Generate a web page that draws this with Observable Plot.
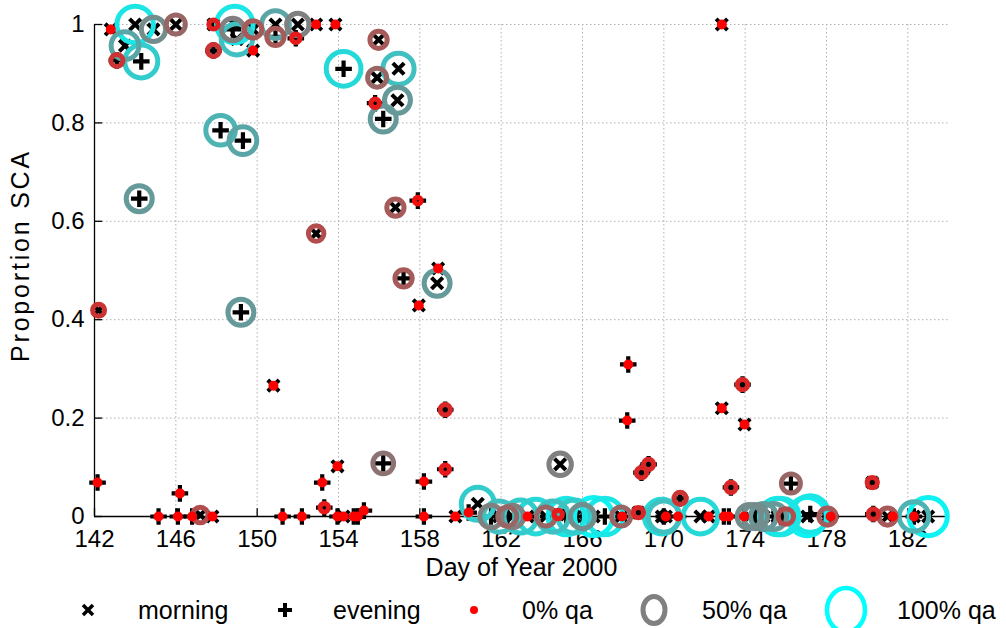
<!DOCTYPE html>
<html><head><meta charset="utf-8">
<script src="https://cdn.jsdelivr.net/npm/d3@7"></script>
<script src="https://cdn.jsdelivr.net/npm/@observablehq/plot@0.6"></script>
<style>
html,body{margin:0;padding:0;background:#fff;}
body{font-family:"Liberation Sans",Arial,sans-serif;}
#wrap{position:relative;width:1006px;height:628px;overflow:hidden;}
#legend{position:absolute;left:0;top:592px;width:1006px;height:36px;}
.lg{position:absolute;top:0;height:36px;display:flex;align-items:center;font-size:25px;color:#000;white-space:nowrap;}
</style></head><body>
<div id="wrap"><div id="chart"></div><div id="legend"></div></div>
<script>
// Day of year, proportion SCA, quality-assurance fraction, session (m = morning, e = evening)
const days = [142.15,142.2,142.8,143.1,143.5,144.0,144.2,144.3,144.9,145.15,146.0,146.1,146.2,146.8,147.2,147.8,147.85,147.85,148.2,148.8,148.9,149.0,149.2,149.3,149.8,149.8,150.8,150.9,150.9,151.25,151.9,152.0,152.2,152.9,152.9,153.2,153.3,153.85,153.95,153.95,154.25,154.25,154.75,154.95,155.25,155.8,155.9,155.97,156.2,156.2,156.8,156.9,156.95,157.2,157.9,157.95,158.2,158.2,158.85,158.9,159.25,159.25,159.75,160.4,160.85,161.5,161.9,162.3,162.55,162.95,163.3,163.7,164.2,164.55,164.8,164.9,165.2,165.6,166.0,166.55,167.1,167.9,167.95,168.2,168.25,168.75,168.9,169.25,169.9,170.0,170.1,170.7,170.8,171.8,172.2,172.85,172.85,172.95,173.2,173.3,173.87,173.95,173.97,174.2,174.5,174.9,175.4,175.6,175.75,176.0,176.25,177.05,177.2,178.05,178.2,180.25,180.3,181.0,181.25,182.3,182.3,183.0];
const sca = [0.069,0.419,0.99,0.927,0.957,1.0,0.646,0.925,0.99,0,1.0,0,0.047,0,0.003,0,1.0,0.947,0.785,0.99,1.0,0.97,0.415,0.764,0.99,0.947,0.266,1.0,0.975,0,0.972,1.0,0,1.0,0.575,0.069,0.018,1.0,0.102,0,0.91,0,0,0,0.012,0.84,0.892,0.969,0.808,0.108,0.628,0.846,0.91,0.484,0.642,0.429,0.071,0,0.474,0.504,0.217,0.096,0,0.008,0.026,0,0,0,0,0,0,0,0,0,0.004,0.106,0,0,0,0,0,0,0,0.195,0.309,0.008,0.089,0.106,0,0,0,0,0.037,0,0,1.0,0.22,0,0,0.059,0.268,0,0.187,0,0,0,0,0,0,0,0.067,0,0.005,0,0,0.069,0.005,0,0,0,0,0];
const qa = [0,0.2,0,0.2,0.65,0.9,0.6,0.8,0.55,0,0.4,0,0,0,0.3,0,0.12,0.2,0.7,0.5,0.9,0.75,0.6,0.65,0.35,0,0,0.65,0.35,0,0.1,0.5,0,0,0.3,0,0.1,0,0,0,0.85,0,0,0,0,0.1,0.4,0.35,0.6,0.45,0.35,0.6,0.75,0.35,0.05,0,0,0,0.6,0,0.15,0.1,0,0,0.8,0.5,0.75,0.4,0.5,0.8,0,0.85,0.4,0.75,0.1,0.5,0.9,0.8,0.55,0.95,0.9,0.4,0,0,0,0.15,0.15,0.15,0.85,0.75,0,0,0.2,0.85,0,0,0,0,0,0.15,0.15,0,0,0.55,0.55,0.6,0.6,0.9,0.9,0.3,0.4,0.95,0.9,0.35,0,0.15,0.15,0.35,0,0.7,0,0.95];
const session = ["e","m","m","e","m","m","e","e","m","e","m","e","e","e","m","m","m","e","e","e","m","m","e","e","m","m","m","m","e","e","e","m","e","m","m","e","e","m","m","e","e","m","e","e","e","e","m","m","e","e","m","m","m","e","e","m","e","e","m","m","e","e","m","e","m","e","m","e","m","e","m","e","m","e","m","m","e","m","e","m","e","m","e","e","e","m","e","e","m","e","m","e","e","m","m","m","m","e","e","e","e","e","m","m","e","m","e","m","e","m","e","m","e","m","e","m","e","m","e","m","e","m"];

const xTicks = [142,146,150,154,158,162,166,170,174,178,182];
const yTicks = [0,0.2,0.4,0.6,0.8,1];
const yTickLabels = ["0","0.2","0.4","0.6","0.8","1"];
const xLabel = "Day of Year 2000";
const yLabel = "Proportion SCA";

const rows = days.map((d,i)=>({day:d, sca:sca[i], qa:qa[i], session:session[i]}));

const chart = Plot.plot({
  width:1006, height:592,
  marginLeft:94, marginRight:58, marginTop:24, marginBottom:76,
  style:{fontFamily:"'Liberation Sans', Arial, sans-serif", fontSize:"25px", background:"#fff", overflow:"visible", color:"#000"},
  x:{domain:[142,184]},
  y:{domain:[0,1]},
  r:{type:"linear", domain:[0,1], range:[2.5,20]},
  color:{type:"linear", domain:[0,0.5,1], range:["#ff0000","#808080","#00ffff"], interpolate:"rgb"},
  marks:[
    Plot.ruleX(xTicks.slice(1), {stroke:"#b0b0b0", strokeWidth:1, strokeDasharray:"1.5,2.5"}),
    Plot.ruleY(yTicks.slice(1), {stroke:"#b0b0b0", strokeWidth:1, strokeDasharray:"1.5,2.5"}),
    Plot.ruleX([142], {stroke:"#000", strokeWidth:1.3}),
    Plot.ruleY([0], {stroke:"#000", strokeWidth:1.3}),
    Plot.ruleX(xTicks, {y1:0, y2:0.016, stroke:"#000", strokeWidth:1.3}),
    Plot.ruleY(yTicks, {x1:142, x2:142.4, stroke:"#000", strokeWidth:1.3}),
    Plot.axisX({ticks:xTicks, tickSize:0, tickPadding:13, fontSize:24, label:null, tickFormat:d=>String(d)}),
    Plot.axisY({ticks:yTicks, tickSize:0, tickPadding:10, fontSize:24, label:null, tickFormat:d=>yTickLabels[yTicks.indexOf(d)]}),
    Plot.text([xLabel], {frameAnchor:"bottom", dy:59, fontSize:25, text:d=>d}),
    Plot.text([yLabel], {frameAnchor:"left", textAnchor:"middle", rotate:-90, dx:-74, dy:-15, fontSize:25, text:d=>d}),
    Plot.dot(rows.filter(d=>d.session==="m"), {x:"day", y:"sca", symbol:"times", r:5.2, stroke:"#000", strokeWidth:4}),
    Plot.dot(rows.filter(d=>d.session==="e"), {x:"day", y:"sca", symbol:"plus", r:5.4, stroke:"#000", strokeWidth:4.2}),
    Plot.dot(rows, {x:"day", y:"sca", r:"qa", stroke:"qa", strokeWidth:5, fill:"none"})
  ]
});
document.getElementById("chart").appendChild(chart);
d3.select(chart).selectAll("text").filter(function(){ return this.textContent === yLabel; }).attr("letter-spacing", "2.8px");

// Legend
const legendItems = [
  {icon:'<svg width="16" height="16"><path d="M3,3L13,13M3,13L13,3" stroke="#000" stroke-width="3.5"/></svg>', ix:80, label:"morning", tx:138},
  {icon:'<svg width="18" height="18"><path d="M9,2V16M2,9H16" stroke="#000" stroke-width="4"/></svg>', ix:276, label:"evening", tx:333},
  {icon:'<svg width="10" height="10"><circle cx="5" cy="5" r="4" fill="#ff0000"/></svg>', ix:469, label:"0% qa", tx:522},
  {icon:'<svg width="32" height="36"><ellipse cx="16" cy="18" rx="11" ry="13.5" fill="none" stroke="#808080" stroke-width="5"/></svg>', ix:638, label:"50% qa", tx:702},
  {icon:'<svg width="48" height="52"><ellipse cx="24" cy="26" rx="19" ry="22" fill="none" stroke="#00ffff" stroke-width="4.5"/></svg>', ix:822, label:"100% qa", tx:897}
];
const lg = document.getElementById("legend");
legendItems.forEach(it=>{
  const ic = document.createElement("div");
  ic.className="lg"; ic.style.left = it.ix+"px"; ic.innerHTML = it.icon;
  lg.appendChild(ic);
  const t = document.createElement("div");
  t.className="lg"; t.style.left = it.tx+"px"; t.textContent = it.label;
  lg.appendChild(t);
});
</script>
</body></html>
